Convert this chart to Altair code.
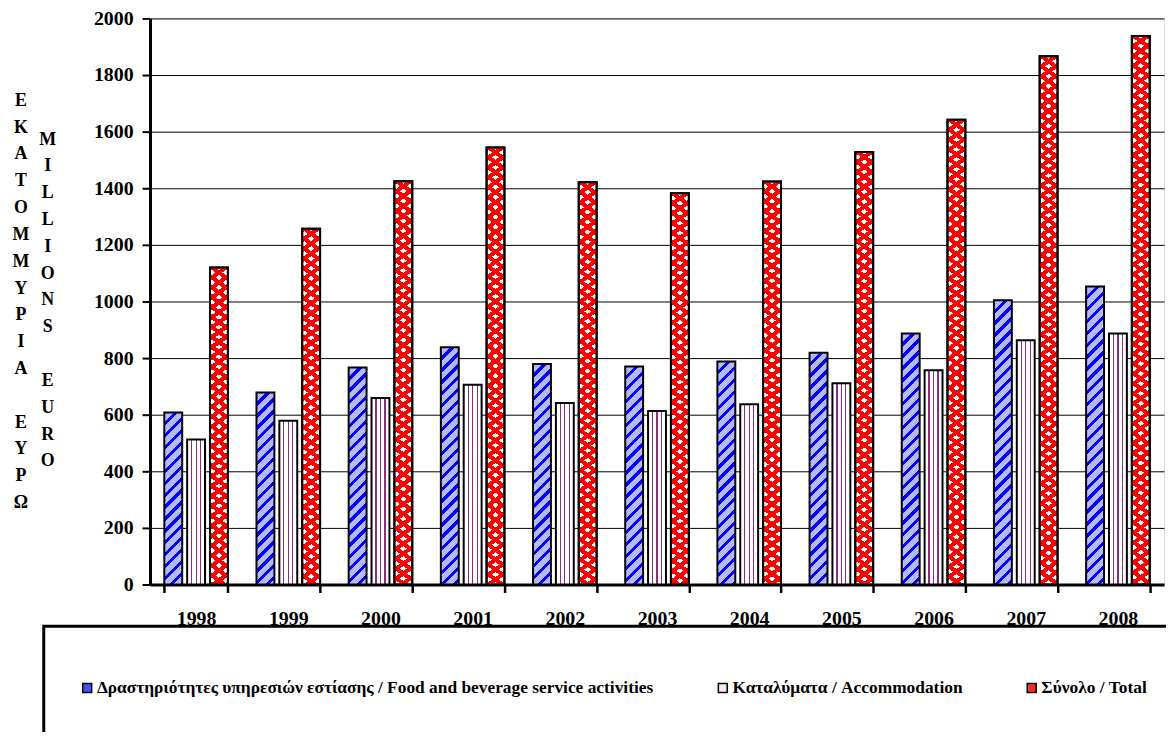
import math
import altair as alt
import pandas as pd

# ---------------- data ----------------
years = ["1998", "1999", "2000", "2001", "2002", "2003", "2004", "2005", "2006", "2007", "2008"]
food = [608, 678, 767, 838, 779, 770, 788, 819, 887, 1004, 1053]
accom = [512, 579, 659, 706, 641, 613, 637, 711, 757, 863, 887]
total = [1120, 1257, 1425, 1544, 1421, 1382, 1424, 1528, 1642, 1866, 1938]
series_codes = ["F", "A", "T"]
series_names = [
    "Δραστηριότητες υπηρεσιών εστίασης / Food and beverage service activities",
    "Καταλύματα / Accommodation",
    "Σύνολο / Total",
]
greek_title_1 = ["Ε", "Κ", "Α", "Τ", "Ο", "Μ", "Μ", "Υ", "Ρ", "Ι", "Α"]
greek_title_2 = ["Ε", "Υ", "Ρ", "Ω"]
latin_title_1 = ["M", "I", "L", "L", "I", "O", "N", "S"]
latin_title_2 = ["E", "U", "R", "O"]
y_ticks = list(range(0, 2001, 100))

# ---------------- layout constants ----------------
PLOT_W, PLOT_H = 1021, 570
YMAX = 2000
X_PAD_IN, X_PAD_OUT = 0.31, 0.155
OFF_PAD = 0.217
step = PLOT_W / (len(years) - X_PAD_IN + 2 * X_PAD_OUT)
band = step * (1 - X_PAD_IN)
BAR_W = band / (3 - OFF_PAD) * (1 - OFF_PAD)
LINE_H = 27

rows = []
for i, y in enumerate(years):
    for code, name, vals in zip(series_codes, series_names, [food, accom, total]):
        rows.append({"year": y, "s": code, "series": name, "value": vals[i]})
df = pd.DataFrame(rows)


# ---------------- pattern helpers (SVG linear gradients with hard stops) ----------------
def band_stops(cmin, cmax, period, phase, frac, band_color, base_color):
    L = cmax - cmin
    half = frac * period / 2
    stops = [(0.0, base_color)]
    k = math.floor((cmin - phase - half) / period)
    while True:
        c = phase + k * period
        a, b = c - half, c + half
        if a > cmax:
            break
        a2, b2 = max(a, cmin), min(b, cmax)
        if b2 > a2:
            oa, ob = (a2 - cmin) / L, (b2 - cmin) / L
            stops += [(oa, base_color), (oa, band_color), (ob, band_color), (ob, base_color)]
        k += 1
    stops.append((1.0, base_color))
    return [{"offset": round(o, 5), "color": col} for o, col in stops]


def slanted(w, h, m, period, phase, frac, band_color, base_color):
    """Stripes of constant c = x + m*y (pixels, y downwards) inside a w x h box."""
    am = abs(m)
    s = (w + am * h) / (w * w + m * m * h * h)
    if m >= 0:
        g = {"x1": 0, "y1": 0, "x2": round(s * w, 6), "y2": round(s * m * h, 6)}
        cmin, cmax = 0, w + m * h
    else:
        g = {"x1": 0, "y1": 1, "x2": round(s * w, 6), "y2": round(1 - s * am * h, 6)}
        cmin, cmax = -am * h, w
    g["gradient"] = "linear"
    g["stops"] = band_stops(cmin, cmax, period, phase, frac, band_color, base_color)
    return g


def vert(w, band_color, base_color):
    return {"gradient": "linear", "x1": 0, "y1": 0, "x2": 1, "y2": 0,
            "stops": band_stops(0, w, w / 4, 0, 0.27, band_color, base_color)}


RED = "#ff0000"
conds_main = []
conds_top = []
for i, y in enumerate(years):
    for code, vals in zip(series_codes, [food, accom, total]):
        h = vals[i] * PLOT_H / YMAX
        test = f"datum.s === '{code}' && datum.year === '{y}'"
        if code == "F":
            g = slanted(BAR_W, h, 1.0, 12, 0, 0.36, "#0000ff", "#b8b8ff")
        elif code == "A":
            g = vert(BAR_W, "#8a2f7a", "#ffffff")
        else:
            g = slanted(BAR_W, h, 1.4, 14, BAR_W / 2, 0.5, "#ffffff", RED)
            conds_top.append({"test": test, "value": slanted(BAR_W, h, -1.4, 14, BAR_W / 2, 0.5,
                                                             "rgba(255,0,0,0)", RED)})
        conds_main.append({"test": test, "value": g})

FONT = "'Liberation Serif', 'Times New Roman', 'DejaVu Serif', serif"

x_enc = alt.X(
    "year:N",
    scale=alt.Scale(domain=years, paddingInner=X_PAD_IN, paddingOuter=X_PAD_OUT),
    axis=alt.Axis(title=None, labelAngle=0, tickBand="extent", tickSize=8, tickWidth=2.5,
                  tickColor="black", domainColor="black", domainWidth=3, labelPadding=16,
                  labelFont=FONT, labelFontWeight="bold", labelFontSize=20, labelColor="black",
                  grid=False),
)
xoff_enc = alt.XOffset("s:N", scale=alt.Scale(domain=series_codes, paddingInner=OFF_PAD, paddingOuter=0))
y_enc = alt.Y(
    "value:Q",
    scale=alt.Scale(domain=[0, YMAX], nice=False),
    axis=alt.Axis(title=None, values=y_ticks, format="d",
                  labelExpr="datum.value % 200 === 0 ? datum.label : ''",
                  labelOverlap=False, tickSize=8, tickWidth=2, tickColor="black",
                  domainColor="black", domainWidth=3, labelPadding=9,
                  labelFont=FONT, labelFontWeight="bold", labelFontSize=20, labelColor="black",
                  grid=True, gridColor="black", gridWidth=1,
                  gridOpacity={"condition": {"test": "datum.value % 200 === 0", "value": 1}, "value": 0}),
)

bars = alt.Chart(df).mark_bar(stroke="black", strokeWidth=2).encode(
    x=x_enc,
    xOffset=xoff_enc,
    y=y_enc,
    fill=alt.Fill(
        "series:N",
        scale=alt.Scale(domain=series_names, range=["#4d4dff", "#f4eaf4", "#ff2a2a"]),
        legend=alt.Legend(orient="none", legendX=-72, legendY=665, direction="horizontal",
                          title=None, padding=0, columnPadding=60,
                          symbolType="square", symbolSize=81, symbolStrokeColor="black",
                          symbolStrokeWidth=1.5, labelOffset=1, labelLimit=1000,
                          labelFont=FONT, labelFontWeight="bold", labelFontSize=17.5,
                          labelColor="black"),
        condition=conds_main,
    ),
)

diamonds = alt.Chart(df).transform_filter("datum.s === 'T'").mark_bar(
    stroke="black", strokeWidth=2
).encode(
    x=alt.X("year:N"),
    xOffset=alt.XOffset("s:N"),
    y=alt.Y("value:Q"),
    fill=alt.FillValue(value="transparent", condition=conds_top),
)

one = alt.Data(values=[{"k": 0}])


def letters(lines, x, y):
    return alt.Chart(one).mark_text(align="center", baseline="alphabetic", font=FONT,
                                    fontWeight="bold", fontSize=18, lineHeight=LINE_H,
                                    color="black").encode(
        x=alt.value(x), y=alt.value(y), text=alt.value(lines))


greek1 = letters(greek_title_1, -130, 88)
greek2 = letters(greek_title_2, -130, 88 + 12 * LINE_H)
latin1 = letters(latin_title_1, -103, 127)
latin2 = letters(latin_title_2, -103, 127 + 9 * LINE_H)

# legend frame (decoration, extends past the right and bottom edges as in the original)
frame = alt.Chart(one).mark_rect(fill="transparent", stroke="black", strokeWidth=3).encode(
    x=alt.value(-107), x2=alt.value(1100), y=alt.value(612), y2=alt.value(800))

chart = alt.layer(bars, diamonds, greek1, greek2, latin1, latin2, frame).properties(
    width=PLOT_W, height=PLOT_H,
    autosize=alt.AutoSizeParams(type="none"),
    padding={"left": 143, "top": 8, "right": 2, "bottom": 146},
).configure_view(stroke="black", strokeWidth=3).configure(font=FONT, background="white")

chart.save("out.html", embed_options={"renderer": "svg", "actions": False})
